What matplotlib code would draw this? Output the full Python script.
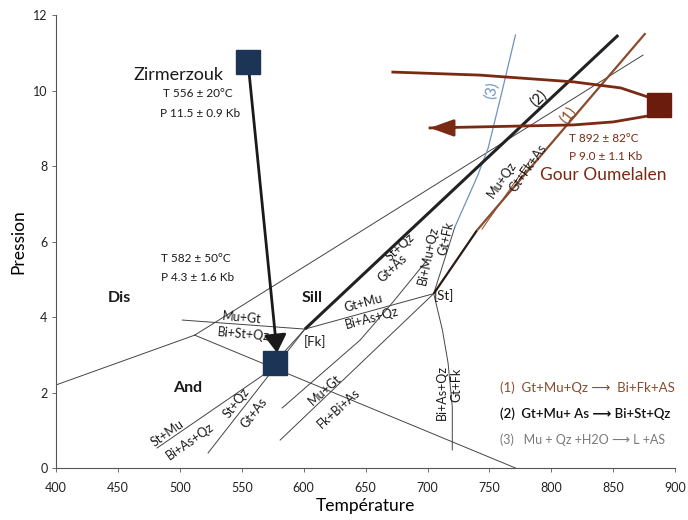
import matplotlib
matplotlib.use('Agg')
import matplotlib.pyplot as plt

plt.rcParams['font.family'] = ['Lato', 'DejaVu Sans']

# ---- data: reaction curves (T in °C, P in kbar) ----
and_ky_T = [400, 512]
and_ky_P = [2.2, 3.52]
ky_sill_T = [512, 874]
ky_sill_P = [3.52, 10.94]
and_sill_T = [512, 771]
and_sill_P = [3.52, 0.0]
mugt_bistqz_T = [502, 601]
mugt_bistqz_P = [3.92, 3.68]
r2_T = [601, 854]
r2_P = [3.68, 11.47]
fk_st_T = [601, 705]
fk_st_P = [3.68, 4.62]
r1_low_T = [705, 740]
r1_low_P = [4.62, 6.3]
r1_T = [740, 876]
r1_P = [6.3, 11.52]
muqz_T = [744, 783]
muqz_P = [6.33, 8.16]
st_down_T = [705, 712, 716.6, 720, 720]
st_down_P = [4.62, 3.66, 2.78, 1.62, 0.48]
st_up_T = [705, 722]
st_up_P = [4.62, 6.38]
r3_T = [722, 740, 749, 761, 771]
r3_P = [6.38, 7.71, 8.48, 10.09, 11.47]
gtmu_T = [582.6, 645.6, 672.2, 699.7]
gtmu_P = [1.59, 3.39, 4.40, 5.51]
fkbias_T = [581, 705]
fkbias_P = [0.74, 4.62]
stmu_T = [481.6, 567.2, 601]
stmu_P = [0.53, 2.46, 3.68]
stqz_T = [522.8, 601]
stqz_P = [0.40, 3.68]

# ---- samples ----
zirm_T, zirm_P = 555, 10.77
zirm_end_T, zirm_end_P = 578.5, 3.05
low_T, low_P = 576.5, 2.78
gour_T, gour_P = 887, 9.62
gour_up_T = [672, 742, 818, 856, 878]
gour_up_P = [10.49, 10.41, 10.23, 10.07, 9.83]
gour_lo_T = [882, 850, 818, 702]
gour_lo_P = [9.35, 9.17, 9.09, 9.01]

x_ticks = [400, 450, 500, 550, 600, 650, 700, 750, 800, 850, 900]
y_ticks = [0, 2, 4, 6, 8, 10, 12]

NAVY = '#1c3557'
BROWN = '#7a2a12'
BROWN_L = '#8b4a2b'
BLUE = '#6d93bd'
THIN = '#444444'

fig = plt.figure(figsize=(6.88, 5.2), dpi=100)
ax = fig.add_axes([0.0814, 0.1, 0.9, 0.871])
ax.set_xlim(400, 900)
ax.set_ylim(0, 12)

lw = 0.7
for T, P in [(and_ky_T, and_ky_P), (ky_sill_T, ky_sill_P), (and_sill_T, and_sill_P),
             (mugt_bistqz_T, mugt_bistqz_P), (fk_st_T, fk_st_P), (st_down_T, st_down_P),
             (st_up_T, st_up_P), (gtmu_T, gtmu_P), (fkbias_T, fkbias_P),
             (stmu_T, stmu_P), (stqz_T, stqz_P)]:
    ax.plot(T, P, color=THIN, lw=lw, zorder=2)
ax.plot(muqz_T, muqz_P, color=BROWN_L, lw=0.7, zorder=2)
ax.plot(r3_T, r3_P, color=BLUE, lw=0.9, zorder=2)
ax.plot(r2_T, r2_P, color='#222222', lw=2.2, zorder=3, solid_capstyle='butt')
ax.plot(r1_low_T, r1_low_P, color='#2a1a14', lw=1.6, zorder=3, solid_capstyle='butt')
ax.plot(r1_T, r1_P, color=BROWN_L, lw=1.6, zorder=3, solid_capstyle='butt')

# Gour Oumelalen path
ax.plot(gour_up_T, gour_up_P, color=BROWN, lw=2.0, zorder=4)
ax.plot(gour_lo_T, gour_lo_P, color=BROWN, lw=2.0, zorder=4)
ax.annotate('', xy=(gour_lo_T[-1], gour_lo_P[-1]), xytext=(gour_lo_T[-1] + 20, gour_lo_P[-1]),
            arrowprops=dict(arrowstyle='-|>,head_length=0.72,head_width=0.26',
                            mutation_scale=20, color=BROWN, lw=2.0, shrinkA=0, shrinkB=0),
            zorder=5)
ax.plot([gour_T], [gour_P], marker='s', ms=17, color='#6b1c0c', mec='#6b1c0c', zorder=6)

# Zirmerzouk path
ax.annotate('', xy=(zirm_end_T, zirm_end_P), xytext=(zirm_T, zirm_P),
            arrowprops=dict(arrowstyle='-|>,head_length=0.55,head_width=0.34',
                            mutation_scale=20, color='#1a1a1a', lw=2.0, shrinkA=0, shrinkB=0),
            zorder=5)
ax.plot([zirm_T], [zirm_P], marker='s', ms=17, color=NAVY, mec=NAVY, zorder=6)
ax.plot([low_T], [low_P], marker='s', ms=17, color=NAVY, mec=NAVY, zorder=6)

# Texts
def t(x, y, s, fs=9, rot=0, color='#1a1a1a', ha='center', va='center', weight='normal'):
    ax.text(x, y, s, fontsize=fs, rotation=rot, color=color, ha=ha, va=va,
            weight=weight, rotation_mode='anchor', zorder=7)

t(499, 10.4, 'Zirmerzouk', fs=13)
t(486, 9.91, 'T 556 ± 20°C', fs=8.5, ha='left')
t(484, 9.40, 'P 11.5 ± 0.9 Kb', fs=8.5, ha='left')
t(485, 5.56, 'T 582 ± 50°C', fs=8.5, ha='left')
t(485, 5.06, 'P 4.3 ± 1.6 Kb', fs=8.5, ha='left')
t(451, 4.50, 'Dis', fs=11.5, weight='bold')
t(607, 4.50, 'Sill', fs=11.5, weight='bold')
t(506, 2.12, 'And', fs=11.5, weight='bold')
t(609, 3.36, '[Fk]', fs=9.5)
t(713, 4.58, '[St]', fs=9.5)
t(814, 8.72, 'T 892 ± 82°C', fs=8.5, color=BROWN, ha='left')
t(814, 8.24, 'P 9.0 ± 1.1 Kb', fs=8.5, color=BROWN, ha='left')
t(791, 7.76, 'Gour Oumelalen', fs=12.5, color=BROWN, ha='left')
t(813.6, 9.35, '(1)', fs=11, rot=52, color=BROWN_L)
t(790, 9.80, '(2)', fs=11, rot=45)
t(752, 10.01, '(3)', fs=11, rot=78, color=BLUE)

t(550, 3.97, 'Mu+Gt', rot=-5)
t(551, 3.55, 'Bi+St+Qz', rot=-5)
t(648, 4.37, 'Gt+Mu', rot=15)
t(655, 3.97, 'Bi+As+Qz', rot=15)
t(678, 5.85, 'St+Qz', rot=43)
t(672, 5.30, 'Gt+As', rot=43)
t(700.5, 5.64, 'Bi+Mu+Qz', rot=78)
t(715, 6.09, 'Gt+Fk', rot=78)
t(760, 7.63, 'Mu+Qz', rot=55)
t(781, 7.95, 'Gt+Fk+As', rot=55)
t(617, 2.07, 'Mu+Gt', rot=42)
t(628, 1.59, 'Fk+Bi+As', rot=42)
t(711.8, 1.99, 'Bi+As+Qz', rot=90)
t(723, 2.20, 'Gt+Fk', rot=90)
t(490, 0.93, 'St+Mu', rot=35)
t(508, 0.72, 'Bi+As+Qz', rot=35)
t(546, 1.72, 'St+Qz', rot=52)
t(560, 1.46, 'Gt+As', rot=52)

# Legend of reactions
t(758.6, 2.12, '(1)  Gt+Mu+Qz \u27f6  Bi+Fk+AS', fs=9.5, color=BROWN_L, ha='left')
t(758.6, 1.43, '(2)  Gt+Mu+ As \u27f6 Bi+St+Qz', fs=9.5, color='#111111', ha='left', weight='semibold')
t(758.6, 0.74, '(3)   Mu + Qz +H2O \u27f6 L +AS', fs=9, color='#7a7a7a', ha='left')

# axes styling
for s in ['top', 'right']:
    ax.spines[s].set_visible(False)
for s in ['left', 'bottom']:
    ax.spines[s].set_color('#555555')
    ax.spines[s].set_linewidth(0.8)
ax.set_xticks(x_ticks)
ax.set_yticks(y_ticks)
ax.tick_params(axis='both', direction='out', length=3, width=0.6, color='#555555',
               labelsize=9, labelcolor='#222222')
ax.tick_params(axis='x', pad=7)
ax.tick_params(axis='y', pad=3)
ax.set_xlabel('Température', fontsize=12.5, labelpad=3)
ax.set_ylabel('Pression', fontsize=12.5, labelpad=5)

fig.savefig('out.png', dpi=100)
